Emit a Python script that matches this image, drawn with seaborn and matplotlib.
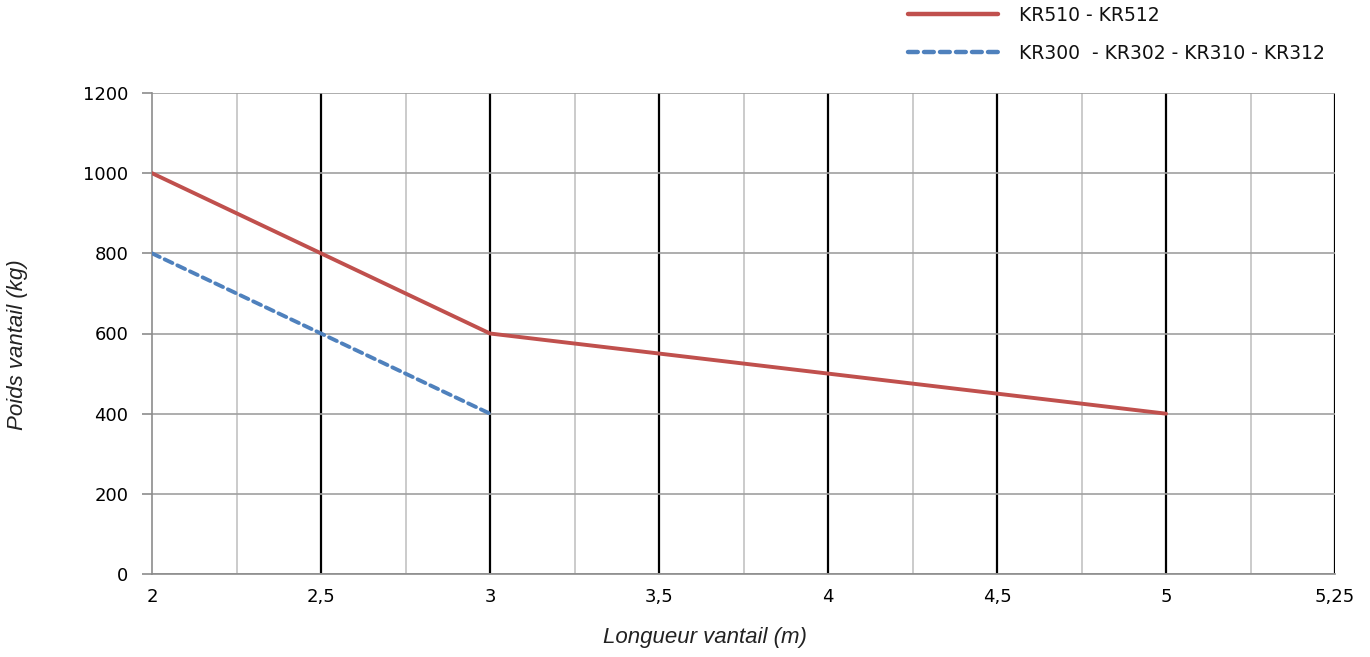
import numpy as np
import pandas as pd

from matplotlib import pyplot as plt
from matplotlib.ticker import FixedLocator, MultipleLocator
import seaborn as sns
sns.set_theme(context='paper', style='white')
plt.rcParams['font.family'] = ['DejaVu Sans']
plt.rcParams['text.color'] = '#111111'
plt.rcParams['axes.labelcolor'] = '#222222'

# categorical x axis: every label sits at the same spacing
x_labels = ['2', '2,5', '3', '3,5', '4', '4,5', '5', '5,25']

kr510_longueur = ['2', '2,5', '3', '3,5', '4', '4,5', '5']
kr510_poids = [1000, 800, 600, 550, 500, 450, 400]

kr300_longueur = ['2', '2,5', '3']
kr300_poids = [800, 600, 400]

serie_510 = 'KR510 - KR512'
serie_300 = 'KR300  - KR302 - KR310 - KR312'

pos = {lab: i for i, lab in enumerate(x_labels)}
dados = pd.DataFrame({
    'longueur': kr510_longueur + kr300_longueur,
    'poids': kr510_poids + kr300_poids,
    'serie': [serie_510] * len(kr510_poids) + [serie_300] * len(kr300_poids),
})
dados['pos'] = dados['longueur'].map(pos)

W, H = 1370, 657
fig = plt.figure(figsize=(W / 100, H / 100), dpi=100)
ax = fig.add_axes([152 / W, 1 - 574 / H, 1183 / W, 481 / H])

sns.lineplot(data=dados, x='pos', y='poids', hue='serie', style='serie',
             hue_order=[serie_510, serie_300], style_order=[serie_510, serie_300],
             palette={serie_510: '#C0504D', serie_300: '#4F81BD'},
             dashes={serie_510: '', serie_300: (2.2, 1.4)},
             linewidth=2.8, dash_capstyle='round', ax=ax, zorder=5)

ax.set_xlim(0, len(x_labels) - 1)
ax.set_ylim(0, 1200)
ax.xaxis.set_major_locator(FixedLocator(range(len(x_labels))))
ax.set_xticklabels(x_labels)
ax.xaxis.set_minor_locator(MultipleLocator(0.5))
ax.yaxis.set_major_locator(MultipleLocator(200))

ax.grid(axis='x', which='major', color='black', linewidth=1.6)
ax.grid(axis='x', which='minor', color='#bdbdbd', linewidth=1.1)
ax.grid(axis='y', which='major', color='#a0a0a0', linewidth=1.2)
ax.xaxis.get_gridlines()[0].set_visible(False)
ax.set_axisbelow(True)

for side in ['top', 'right']:
    ax.spines[side].set_visible(False)
for side in ['left', 'bottom']:
    ax.spines[side].set_color('#8c8c8c')
    ax.spines[side].set_linewidth(1.2)

ax.tick_params(axis='x', which='both', length=0, pad=10, labelsize=13, colors='black')
ax.tick_params(axis='y', which='major', length=7, width=1.2, color='#8c8c8c',
               pad=10, labelsize=13, labelcolor='black', left=True)

ax.set_xlabel('Longueur vantail (m)', family='Liberation Sans', style='italic', fontsize=16)
ax.set_ylabel('Poids vantail (kg)', family='Liberation Sans', style='italic', fontsize=16)
ax.xaxis.set_label_coords(0.467, -0.11)
ax.yaxis.set_label_coords(-0.105, 0.476)

handles, labels = ax.get_legend_handles_labels()
ax.get_legend().remove()
leg = fig.legend(handles, labels, loc='upper left', bbox_to_anchor=(908 / W, 1 - 6 / H),
                 frameon=False, fontsize=13.5, handlelength=4.8, handletextpad=1.1,
                 labelspacing=1.0, borderpad=0, borderaxespad=0)
for h in leg.legend_handles:
    h.set_linewidth(3.2)
    h.set_dash_capstyle('round')

fig.savefig('out.png', dpi=100)
